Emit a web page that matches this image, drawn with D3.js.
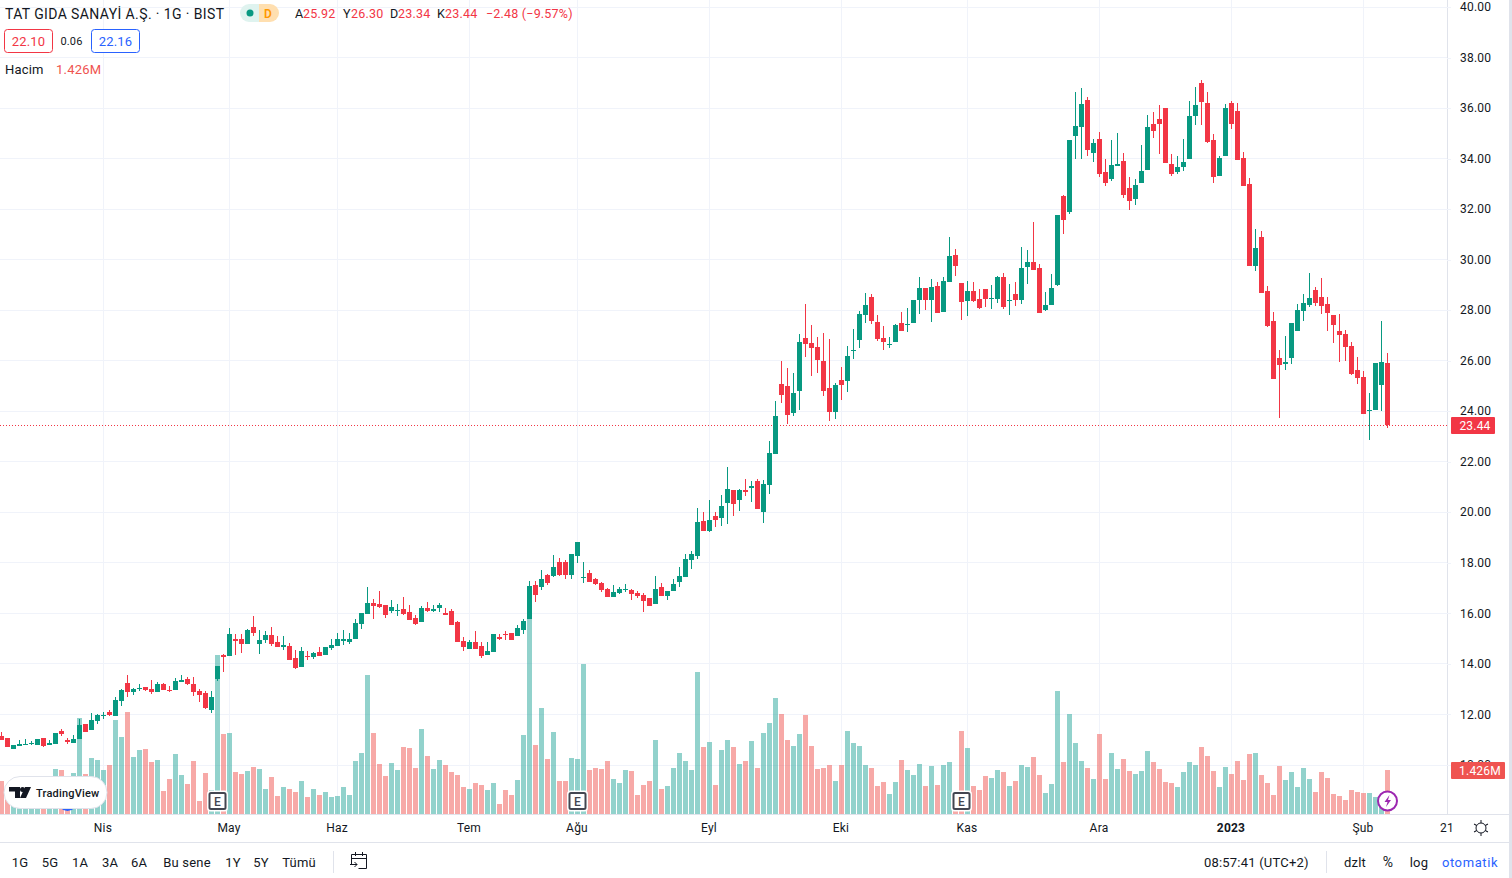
<!DOCTYPE html>
<html>
<head>
<meta charset="utf-8">
<style>
  html, body { margin: 0; padding: 0; background: #fff; overflow: hidden; }
  text { font-family: Roboto, "Liberation Sans", sans-serif; fill: #131722; letter-spacing: 0.2px; }
</style>
</head>
<body>
<div id="chart"></div>
<script src="https://cdn.jsdelivr.net/npm/d3@7"></script>
<script>
// Daily OHLC and volume (millions)
const opens = [
  11.13,11.05,10.62,10.74,10.78,10.85,10.81,11.05,10.78,10.85,
  11.33,10.97,10.89,11.01,11.61,11.37,11.73,11.93,12.09,11.93,
  12.52,13.24,12.88,13.01,13.08,13.00,12.88,13.20,12.98,12.96,
  13.27,13.39,13.20,12.92,12.84,12.16,13.39,14.35,14.31,14.98,
  14.98,14.78,15.46,14.78,14.94,15.14,14.86,14.66,14.70,14.23,
  13.87,14.33,14.27,14.47,14.35,14.62,14.70,14.90,14.86,14.98,
  15.57,15.97,16.40,16.36,16.32,16.09,16.09,16.17,16.05,15.81,
  15.65,16.21,16.09,16.21,16.01,16.09,15.65,14.90,14.58,14.86,
  14.70,14.35,14.46,15.06,15.18,15.22,15.10,15.34,15.77,17.12,
  17.04,17.51,17.47,18.03,18.03,17.51,18.26,17.39,17.59,17.35,
  17.20,16.96,16.64,16.80,16.92,16.92,16.80,16.72,16.60,16.36,
  17.04,16.68,16.88,17.23,17.43,18.11,18.27,19.66,19.26,19.86,
  19.78,20.37,20.88,20.49,20.88,20.96,21.24,20.01,21.08,22.31,
  25.08,25.00,23.93,24.80,26.90,26.70,26.54,25.99,24.92,23.97,
  25.24,25.20,26.39,26.82,27.81,28.52,27.53,26.90,26.62,26.74,
  27.49,27.41,27.49,28.40,28.88,28.40,28.96,27.93,29.12,30.18,
  29.08,28.36,28.76,28.44,28.84,28.44,28.44,29.31,28.36,28.64,
  28.40,29.71,29.91,29.67,28.00,28.20,28.99,32.53,31.88,34.91,
  35.27,36.33,34.24,34.79,33.45,33.18,33.69,33.89,32.82,32.39,
  33.02,33.53,35.38,35.58,36.01,33.77,33.45,33.65,33.97,35.70,
  37.00,36.21,34.75,33.30,34.12,36.21,35.89,34.04,33.01,29.74,
  30.88,28.77,27.58,26.11,25.87,26.11,27.18,27.97,28.21,28.81,
  28.53,28.25,27.82,27.18,27.06,26.59,25.64,25.36,24.01,24.05,
  25.04,25.92
];
const closes = [
  10.97,10.71,10.79,10.83,10.85,10.87,11.04,10.74,10.89,11.25,
  11.21,10.92,11.01,11.57,11.29,11.77,11.97,11.97,11.97,12.56,
  12.96,12.88,13.00,13.05,12.96,12.88,13.20,12.96,12.96,13.31,
  13.35,13.20,12.88,12.76,12.24,12.68,13.91,14.27,15.18,14.90,
  14.78,15.34,15.22,14.94,15.14,14.78,14.66,14.74,14.15,13.83,
  14.50,14.27,14.43,14.31,14.66,14.74,14.98,14.98,15.00,15.61,
  16.01,16.40,16.28,16.25,15.93,16.25,16.13,15.97,15.73,15.57,
  16.21,16.09,16.17,16.32,15.93,15.53,14.86,14.66,14.86,14.58,
  14.31,14.50,15.18,14.98,15.14,14.94,15.41,15.69,17.08,16.72,
  17.35,17.20,17.83,17.51,17.51,18.34,18.82,17.43,17.23,17.16,
  16.92,16.64,16.84,16.96,16.96,16.76,16.68,16.48,16.28,16.96,
  16.68,16.88,17.16,17.47,18.14,18.34,19.62,19.26,19.70,19.70,
  20.25,20.92,20.33,20.88,20.80,21.04,20.13,21.12,22.35,23.81,
  24.64,23.85,24.72,26.74,26.66,26.50,26.03,24.80,23.97,25.04,
  25.04,26.19,26.42,27.85,28.21,27.57,26.86,26.74,26.66,27.41,
  27.18,27.45,28.40,28.88,28.40,28.92,27.89,29.16,30.15,29.75,
  28.32,28.76,28.36,28.09,28.44,28.48,29.31,28.13,28.40,28.40,
  29.67,29.91,29.59,27.88,28.20,28.87,31.77,31.58,34.75,35.30,
  36.17,34.36,34.60,33.41,33.02,33.73,33.77,32.55,32.31,32.94,
  33.49,35.27,35.11,35.38,33.81,33.41,33.65,33.85,35.70,36.13,
  36.25,34.67,33.26,34.04,36.01,35.38,33.96,32.93,29.74,30.45,
  28.69,27.38,25.28,25.83,25.95,27.50,28.01,28.29,28.49,28.29,
  28.17,27.89,27.42,27.02,26.55,25.48,25.32,23.89,24.05,25.91,
  25.95,23.44
];
const highs = [
  11.29,11.05,10.79,10.97,11.01,10.96,11.04,11.07,11.00,11.27,
  11.41,11.05,11.17,11.81,11.63,12.04,12.00,12.09,12.16,12.68,
  13.00,13.55,13.04,13.20,13.08,13.35,13.27,13.24,13.12,13.43,
  13.55,13.47,13.47,13.00,12.92,12.92,13.91,14.39,15.42,15.18,
  15.18,15.38,15.89,15.34,15.30,15.46,15.10,15.10,14.82,14.54,
  14.66,14.50,14.47,14.66,14.66,14.98,15.22,15.34,15.22,15.77,
  16.01,17.04,16.56,16.88,16.32,16.52,16.36,16.64,16.32,15.93,
  16.28,16.44,16.32,16.40,16.21,16.17,15.69,15.06,14.94,15.30,
  14.86,14.86,15.18,15.18,15.30,15.22,15.53,15.77,17.27,17.27,
  17.71,17.55,18.30,18.18,18.11,18.34,18.82,18.03,17.71,17.39,
  17.23,17.00,17.12,17.04,17.16,16.96,16.88,16.80,16.60,17.47,
  17.20,16.88,17.35,17.83,18.34,18.46,20.17,20.01,20.49,20.01,
  20.69,21.79,20.88,20.92,21.32,21.24,21.32,21.28,22.82,24.41,
  25.99,25.71,25.51,27.06,28.25,27.41,26.94,27.10,26.86,25.12,
  25.75,26.58,27.26,27.97,28.68,28.64,27.81,27.37,26.94,27.45,
  27.93,28.09,28.40,29.31,28.88,29.24,29.12,29.31,30.90,30.42,
  29.08,29.16,29.12,28.84,28.84,29.00,29.35,29.47,29.04,29.12,
  30.50,30.38,31.49,29.83,28.72,29.43,31.77,32.57,34.75,36.64,
  36.80,36.45,34.79,35.07,33.97,34.75,35.03,34.24,33.26,33.18,
  34.52,35.74,35.86,36.13,36.01,34.20,34.12,34.79,36.29,36.84,
  37.12,36.64,34.99,34.12,36.17,36.29,36.21,34.28,33.25,31.20,
  31.12,28.96,27.93,26.43,26.98,27.50,28.25,28.65,29.48,28.92,
  29.28,28.53,27.82,27.85,27.22,26.75,26.15,25.60,24.72,25.91,
  27.58,26.30
];
const lows = [
  10.97,10.71,10.62,10.74,10.78,10.78,10.81,10.72,10.78,10.85,
  11.13,10.85,10.89,11.01,11.29,11.37,11.61,11.81,11.93,11.93,
  12.32,12.68,12.76,12.92,12.92,12.80,12.88,12.96,12.88,12.96,
  13.27,13.16,12.72,12.48,12.20,12.04,13.31,13.67,14.31,14.35,
  14.43,14.78,15.10,14.39,14.82,14.70,14.66,14.54,14.15,13.79,
  13.87,14.15,14.19,14.31,14.35,14.54,14.70,14.74,14.78,14.98,
  15.37,15.97,15.77,16.21,15.81,16.01,15.89,15.93,15.73,15.53,
  15.65,16.05,16.05,16.05,15.93,15.53,14.86,14.50,14.58,14.58,
  14.23,14.35,14.46,14.94,14.94,14.94,15.10,15.18,15.77,16.44,
  16.92,17.12,17.43,17.47,17.35,17.35,17.99,17.20,17.23,17.12,
  16.84,16.64,16.64,16.76,16.84,16.52,16.60,16.05,16.28,16.36,
  16.68,16.52,16.88,17.04,17.43,17.75,18.15,19.26,19.22,19.42,
  19.46,19.54,19.85,20.05,20.65,20.41,20.13,19.58,20.73,22.31,
  24.33,23.50,23.81,24.05,26.15,25.40,25.51,24.60,23.61,23.69,
  24.45,24.76,26.07,26.50,27.49,27.45,26.78,26.42,26.50,26.74,
  27.18,27.14,27.49,27.85,28.01,27.53,27.89,27.93,29.12,29.35,
  27.61,27.77,28.32,28.05,28.13,28.05,28.28,28.05,27.81,28.17,
  28.25,29.04,29.59,27.88,27.96,28.20,28.95,31.02,31.80,34.00,
  34.00,34.12,33.85,33.26,32.90,33.10,33.69,32.43,31.96,32.15,
  33.02,33.53,34.83,34.20,33.81,33.30,33.38,33.49,33.97,35.34,
  35.34,34.60,33.02,33.30,34.12,35.18,33.96,32.93,29.74,29.54,
  28.69,27.34,25.28,23.73,25.64,25.87,27.18,27.58,28.13,28.17,
  27.85,27.18,26.71,25.95,25.99,25.44,25.08,23.89,22.86,24.05,
  24.01,23.34
];
const volumes = [
  1.07,0.75,0.70,0.65,0.70,0.80,0.70,0.85,0.75,1.46,
  1.43,1.00,1.33,3.11,1.30,1.81,1.75,1.43,1.59,3.05,
  2.49,3.30,1.85,2.07,2.11,1.68,1.75,0.75,1.13,1.94,
  1.26,0.97,1.72,0.42,1.33,0.78,5.15,2.59,2.62,1.36,
  1.30,1.39,1.53,1.46,0.81,1.20,0.58,0.87,0.81,0.71,
  1.07,0.55,0.81,0.62,0.71,0.55,0.58,0.87,0.62,1.72,
  1.98,4.50,2.62,1.62,1.23,1.65,1.43,2.17,2.14,1.49,
  2.75,1.88,1.46,1.75,1.59,1.36,1.26,0.87,0.81,1.00,
  0.94,0.78,1.00,0.32,0.78,0.62,1.10,2.56,6.32,2.24,
  3.43,1.78,2.66,1.07,1.07,1.81,1.78,4.86,1.43,1.49,
  1.46,1.72,1.13,1.00,1.43,1.39,0.62,0.94,1.07,2.40,
  0.81,0.91,1.49,1.98,1.72,1.43,4.60,2.17,2.33,0.94,
  2.07,2.40,2.17,1.62,1.72,2.36,1.49,2.62,2.95,3.76,
  3.24,2.40,2.20,2.59,3.21,2.20,1.46,1.49,1.59,1.07,
  1.59,2.69,2.30,2.20,1.59,1.49,0.91,1.04,0.65,1.04,
  1.75,1.43,1.26,1.62,0.91,1.56,0.94,1.59,1.68,0.60,
  2.69,2.14,0.91,0.78,1.23,1.17,1.43,1.36,0.91,1.07,
  1.59,1.52,1.85,1.26,0.68,0.97,3.98,1.68,3.24,2.30,
  1.72,1.49,1.13,2.59,1.13,1.98,1.46,1.78,1.39,1.30,
  1.39,2.04,1.68,1.46,1.04,1.00,0.87,1.36,1.68,1.59,
  2.17,1.88,1.39,0.87,1.52,1.30,1.72,1.10,1.94,1.98,
  1.26,1.00,0.62,1.56,1.10,1.36,0.87,1.49,1.13,0.71,
  1.36,1.17,0.65,0.58,0.45,0.78,0.71,0.68,0.68,0.55,
  0.42,1.426
];

// Time axis: bar index of every month label
const monthBars = [17, 38, 56, 78, 96, 118, 140, 161, 183, 205, 227, 241];
const monthLabels = ["Nis", "May", "Haz", "Tem", "Ağu", "Eyl", "Eki", "Kas", "Ara", "2023", "Şub", "21"];
const earningsBars = [36, 96, 160];
const priceTicks = d3.range(10, 41, 2);
const lastClose = 23.44;
const lastVolume = 1.426;

const rangeButtons = ["1G", "5G", "1A", "3A", "6A", "Bu sene", "1Y", "5Y", "Tümü"];
const rangeCenters = [20, 50, 80, 110, 139, 187, 233, 261, 299];

const upColor = "#089981";
const downColor = "#f23645";
const gridColor = "#f0f3fa";
const borderColor = "#e0e3eb";

const width = 1512;
const height = 878;
const paneRight = 1447;
const paneBottom = 814;

const svg = d3.select("#chart").append("svg")
  .attr("width", width)
  .attr("height", height)
  .style("display", "block");

// Scales
const x = d3.scaleLinear().domain([0, 241]).range([1.5, 1447.5]);
const y = d3.scaleLinear().domain([10, 40]).range([765, 7]);
const yVol = d3.scaleLinear().domain([0, 6.32]).range([paneBottom, 619]);

// Grid
const grid = svg.append("g").attr("shape-rendering", "crispEdges");
grid.selectAll(".h").data(priceTicks).join("line")
  .attr("x1", 0).attr("x2", paneRight)
  .attr("y1", (d) => y(d)).attr("y2", (d) => y(d))
  .attr("stroke", gridColor);
grid.selectAll(".v").data(monthBars.slice(0, -1)).join("line")
  .attr("x1", (d) => x(d)).attr("x2", (d) => x(d))
  .attr("y1", 0).attr("y2", paneBottom)
  .attr("stroke", gridColor);

// Volume bars behind the candles
svg.append("g").attr("shape-rendering", "crispEdges")
  .selectAll("rect").data(volumes).join("rect")
  .attr("x", (d, i) => x(i) - 2.5)
  .attr("width", 5)
  .attr("y", (d) => yVol(d))
  .attr("height", (d) => paneBottom - yVol(d))
  .attr("fill", (d, i) => closes[i] >= opens[i] ? "#26a69a" : "#ef5350")
  .attr("fill-opacity", 0.5);

// Dotted line of the last price
svg.append("line")
  .attr("x1", 0).attr("x2", paneRight)
  .attr("y1", y(lastClose)).attr("y2", y(lastClose))
  .attr("stroke", downColor)
  .attr("stroke-dasharray", "1,2")
  .attr("shape-rendering", "crispEdges");

// Candles
const candles = svg.append("g").attr("shape-rendering", "crispEdges")
  .selectAll("g").data(opens).join("g")
  .attr("fill", (d, i) => closes[i] >= d ? upColor : downColor);
candles.append("rect")
  .attr("x", (d, i) => x(i) - 0.5)
  .attr("width", 1)
  .attr("y", (d, i) => y(highs[i]))
  .attr("height", (d, i) => y(lows[i]) - y(highs[i]));
candles.append("rect")
  .attr("x", (d, i) => x(i) - 2.5)
  .attr("width", 5)
  .attr("y", (d, i) => y(Math.max(d, closes[i])))
  .attr("height", (d, i) => Math.max(1, Math.abs(y(d) - y(closes[i]))));

// Pane borders
const borders = svg.append("g").attr("stroke", borderColor).attr("shape-rendering", "crispEdges");
borders.append("line").attr("x1", paneRight + 0.5).attr("x2", paneRight + 0.5).attr("y1", 0).attr("y2", paneBottom);
borders.append("line").attr("x1", 0).attr("x2", 1509).attr("y1", paneBottom + 0.5).attr("y2", paneBottom + 0.5);
borders.append("line").attr("x1", 0).attr("x2", 1509).attr("y1", 842.5).attr("y2", 842.5);
svg.append("rect").attr("x", 1509).attr("y", 0).attr("width", 3).attr("height", height).attr("fill", borderColor);

// Price axis
const priceAxis = svg.append("g")
  .attr("transform", `translate(${paneRight},0)`)
  .call(d3.axisRight(y).tickValues(priceTicks).tickSize(4).tickPadding(9).tickFormat(d3.format(".2f")));
priceAxis.select(".domain").remove();
priceAxis.selectAll("line").attr("stroke", gridColor).attr("shape-rendering", "crispEdges");
priceAxis.selectAll("text").style("font-size", "12px").attr("dy", "0.3em");

// Time axis
const timeAxis = svg.append("g")
  .attr("transform", `translate(0,${paneBottom})`)
  .call(d3.axisBottom(x).tickValues(monthBars).tickSize(0).tickPadding(9)
    .tickFormat((d, i) => monthLabels[i]));
timeAxis.select(".domain").remove();
timeAxis.selectAll("text")
  .attr("dx", -1)
  .style("font-size", "12px")
  .style("font-weight", (d) => d === 205 ? "700" : "400");

// Price and volume tags on the axis
function axisTag(label, color, center, right) {
  svg.append("rect").attr("x", 1451).attr("y", center - 8.5).attr("width", right - 1451).attr("height", 17)
    .attr("fill", color).attr("rx", 1);
  svg.append("text").attr("x", (1451 + right) / 2 + 2).attr("y", center + 4.5).attr("text-anchor", "middle")
    .style("fill", "#fff").style("font-size", "12px").text(label);
}
axisTag(d3.format(".2f")(lastClose), downColor, y(lastClose), 1495);
axisTag(lastVolume + "M", "#ef5350", 770.5, 1505);

// Earnings badges
const badges = svg.append("g").selectAll("g").data(earningsBars).join("g")
  .attr("transform", (d) => `translate(${x(d)},801)`);
badges.append("rect").attr("x", -9).attr("y", -9).attr("width", 18).attr("height", 18).attr("rx", 2)
  .attr("fill", "#fff").attr("stroke", "#fff").attr("stroke-width", 3);
badges.append("rect").attr("x", -8).attr("y", -8).attr("width", 16).attr("height", 16).attr("rx", 1.5)
  .attr("fill", "#fff").attr("stroke", "#434651").attr("stroke-width", 2);
badges.append("text").attr("text-anchor", "middle").attr("y", 4.5)
  .style("font-size", "12px").style("font-weight", "500").style("fill", "#434651").text("E");

// Blue event marker mostly hidden by the logo, then the logo pill
svg.append("circle").attr("cx", x(11)).attr("cy", 801).attr("r", 9)
  .attr("fill", "#fff").attr("stroke", "#2962ff").attr("stroke-width", 2);
svg.append("rect").attr("x", 4).attr("y", 776.5).attr("width", 103).attr("height", 32).attr("rx", 16)
  .attr("fill", "#fff").attr("stroke", "#e0e3eb");
svg.append("path").attr("fill", "#131722")
  .attr("d", "M9 787h11v11h-5v-6.500h-6z M25 787h6l-5 11h-6z");
svg.append("circle").attr("cx", 22.500).attr("cy", 789.500).attr("r", 2.500).attr("fill", "#131722");
svg.append("text").attr("x", 36).attr("y", 796.500)
  .style("font-size", "11px").style("font-weight", "500").text("TradingView");

// Lightning marker next to the last bar
svg.append("circle").attr("cx", x(231)).attr("cy", 801).attr("r", 9.500)
  .attr("fill", "#fff").attr("stroke", "#9c27b0").attr("stroke-width", 2);
svg.append("path").attr("fill", "#9c27b0")
  .attr("d", "M1389.500 795l-5 7h3l-1.500 5 5-7h-3z");

// Legend
svg.append("text").attr("x", 5).attr("y", 18.500).style("font-size", "14px").style("letter-spacing", "0.39px")
  .text("TAT GIDA SANAYİ A.Ş. · 1G · BIST");
svg.append("path").attr("fill", "#dff3ef").attr("d", "M249 4h10v18h-10a9 9 0 0 1 0-18z");
svg.append("path").attr("fill", "#ffdfb0").attr("d", "M259 4h11a9 9 0 0 1 0 18h-11z");
svg.append("circle").attr("cx", 250).attr("cy", 13).attr("r", 3.500).attr("fill", upColor);
svg.append("text").attr("x", 268).attr("y", 17.500).attr("text-anchor", "middle")
  .style("font-size", "12px").style("font-weight", "600").style("fill", "#ff9800").text("D");

const ohlcLabels = [["A", "25.92", 295], ["Y", "26.30", 343], ["D", "23.34", 390], ["K", "23.44", 437]];
ohlcLabels.forEach(([k, v, px]) => {
  svg.append("text").attr("x", px).attr("y", 18).style("font-size", "12.500px").text(k);
  svg.append("text").attr("x", px + 8).attr("y", 18).style("font-size", "12.500px").style("fill", downColor).text(v);
});
svg.append("text").attr("x", 486).attr("y", 18).style("font-size", "12.500px").style("fill", downColor).text("−2.48 (−9.57%)");

// Sell / buy boxes
svg.append("rect").attr("x", 4.500).attr("y", 29.500).attr("width", 48).attr("height", 23).attr("rx", 3)
  .attr("fill", "#fff").attr("stroke", downColor);
svg.append("text").attr("x", 28.500).attr("y", 46).attr("text-anchor", "middle")
  .style("font-size", "13px").style("fill", downColor).text("22.10");
svg.append("text").attr("x", 71.500).attr("y", 45).attr("text-anchor", "middle")
  .style("font-size", "11px").text("0.06");
svg.append("rect").attr("x", 91.500).attr("y", 29.500).attr("width", 48).attr("height", 23).attr("rx", 3)
  .attr("fill", "#fff").attr("stroke", "#2962ff");
svg.append("text").attr("x", 115.500).attr("y", 46).attr("text-anchor", "middle")
  .style("font-size", "13px").style("fill", "#2962ff").text("22.16");

svg.append("text").attr("x", 5).attr("y", 74).style("font-size", "13px").text("Hacim");
svg.append("text").attr("x", 56).attr("y", 74).style("font-size", "13px").style("fill", "#ef5350").text("1.426M");

// Bottom toolbar
svg.append("g").selectAll("text").data(rangeButtons).join("text")
  .attr("x", (d, i) => rangeCenters[i]).attr("y", 867).attr("text-anchor", "middle")
  .style("font-size", "13px").text((d) => d);
const separators = [333.500, 1326.500];
svg.append("g").selectAll("line").data(separators).join("line")
  .attr("x1", (d) => d).attr("x2", (d) => d).attr("y1", 851).attr("y2", 873)
  .attr("stroke", borderColor).attr("shape-rendering", "crispEdges");
svg.append("path").attr("fill", "none").attr("stroke", "#131722")
  .attr("d", "M351.500 865v-10.500h15v14h-8 M351.500 858.500h15 M355.500 852v4 M362.500 852v4 M350 864.500h7 M354.500 862l2.500 2.500l-2.500 2.500");

svg.append("text").attr("x", 1204).attr("y", 867).style("font-size", "13px").text("08:57:41 (UTC+2)");
svg.append("text").attr("x", 1355).attr("y", 867).attr("text-anchor", "middle").style("font-size", "13px").text("dzlt");
svg.append("text").attr("x", 1388).attr("y", 867).attr("text-anchor", "middle").style("font-size", "14px").text("%");
svg.append("text").attr("x", 1419).attr("y", 867).attr("text-anchor", "middle").style("font-size", "13px").text("log");
svg.append("text").attr("x", 1470).attr("y", 867).attr("text-anchor", "middle")
  .style("font-size", "13px").style("fill", "#2962ff").style("letter-spacing", "0.6px").text("otomatik");

// Settings gear in the axis corner
const gear = svg.append("g").attr("transform", "translate(1481,828)").attr("stroke", "#131722");
gear.append("circle").attr("r", 5).attr("fill", "none");
gear.selectAll("line").data(d3.range(0, 360, 60)).join("line")
  .attr("y1", -5).attr("y2", -8)
  .attr("transform", (d) => `rotate(${d})`);
</script>
</body>
</html>
